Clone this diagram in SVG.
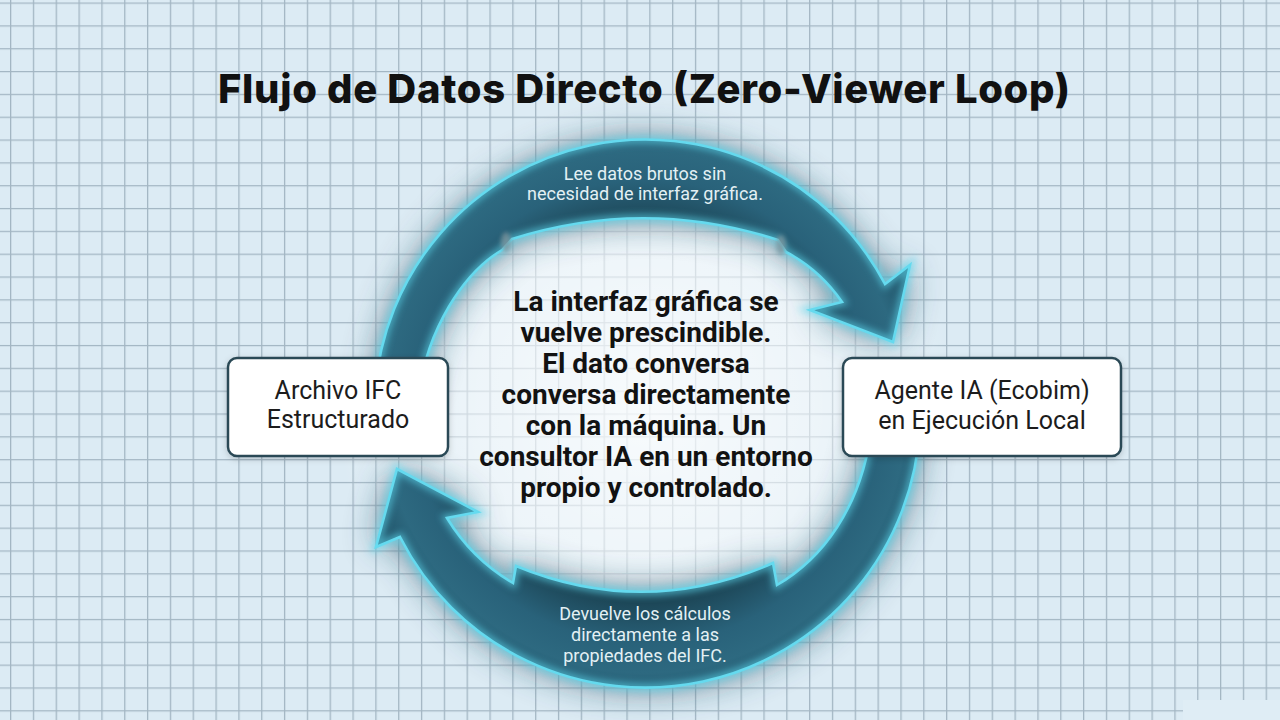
<svg xmlns="http://www.w3.org/2000/svg" width="1280" height="720" viewBox="0 0 1280 720">
<defs>
<style>
.bandHalo { fill: #1b4a5f; opacity: 0.75; filter: url(#halo); }
.band { fill: url(#bandFill); stroke: #6ad8ec; stroke-width: 2.6; stroke-linejoin: miter; stroke-miterlimit: 8; }
.bandGlow { fill: none; stroke: #5fdcf2; stroke-width: 8; opacity: 0.6; filter: url(#glow); }
.nodeBox { fill: #ffffff; stroke: #2c4a56; stroke-width: 2.5; filter: url(#shadow); }
.nodeText { font-family: Roboto, "Liberation Sans", sans-serif; font-size: 25px; fill: #1c1c1c; text-anchor: middle; }
.bandLabel { font-family: Roboto, "Liberation Sans", sans-serif; font-size: 18px; fill: #e3f0f4; text-anchor: middle; }
.centerText { font-family: Roboto, "Liberation Sans", sans-serif; font-weight: 700; font-size: 28px; fill: #121212; text-anchor: middle; }
.title { font-family: Inter, "Liberation Sans", sans-serif; font-weight: 800; font-size: 40px; fill: #111111; text-anchor: middle; }
.smudge { fill: #7f939b; opacity: 0.75; filter: url(#soft); }
</style>
<pattern id="grid" x="10" y="2.5" width="22.83" height="22.83" patternUnits="userSpaceOnUse">
<path d="M0.65 0 V22.83 M0 0.65 H22.83" stroke="#a3b6c3" stroke-width="1.3" fill="none"/>
</pattern>
<radialGradient id="centerGlow" cx="645" cy="405" r="310" gradientUnits="userSpaceOnUse">
<stop offset="0" stop-color="#ffffff" stop-opacity="0.8"/>
<stop offset="0.55" stop-color="#ffffff" stop-opacity="0.5"/>
<stop offset="1" stop-color="#ffffff" stop-opacity="0"/>
</radialGradient>
<radialGradient id="bandFill" cx="645" cy="412" r="290" gradientUnits="userSpaceOnUse">
<stop offset="0.66" stop-color="#1d4758"/>
<stop offset="0.8" stop-color="#29627a"/>
<stop offset="0.9" stop-color="#2d6980"/>
<stop offset="1" stop-color="#215469"/>
</radialGradient>
<filter id="halo" x="-30%" y="-30%" width="160%" height="160%"><feGaussianBlur stdDeviation="18"/></filter>
<filter id="glow" x="-20%" y="-20%" width="140%" height="140%"><feGaussianBlur stdDeviation="3.5"/></filter>
<filter id="soft" x="-50%" y="-50%" width="200%" height="200%"><feGaussianBlur stdDeviation="2"/></filter>
<filter id="shadow" x="-10%" y="-20%" width="120%" height="140%"><feDropShadow dx="0" dy="2" stdDeviation="3" flood-color="#000000" flood-opacity="0.18"/></filter>
<path id="topBand" d="M 375 392 A 271 271 0 0 1 885 284 L 910 265 L 893 342 L 810 310 L 842 302 Q 820 270 786 252 L 778 240 Q 645 197 512 239 L 502 250 C 462 274 428 330 419 392 Z"/>
<path id="bottomBand" d="M 920 425 A 275 275 0 0 1 400 537 L 376 547 L 397 469 L 478 512 L 447 518 Q 472 559 513 583 L 516 566 Q 645 619 773 563 L 777 585 C 820 560 862 510 872 425 Z"/>
</defs>

<g id="background">
<rect x="0" y="0" width="1280" height="720" fill="#dcebf4"/>
<rect x="0" y="0" width="1280" height="720" fill="url(#grid)"/>
<rect x="1183" y="700" width="97" height="20" fill="#dfedf5"/>
<rect x="0" y="0" width="1280" height="720" fill="url(#centerGlow)"/>
</g>

<text class="title" x="644" y="103" textLength="852" lengthAdjust="spacing">Flujo de Datos Directo (Zero-Viewer Loop)</text>

<g id="connectors">
<g id="flow-read">
<use href="#topBand" class="bandHalo"/>
<use href="#topBand" class="band"/>
<use href="#topBand" class="bandGlow"/>
<ellipse class="smudge" cx="506" cy="242" rx="5" ry="10"/>
<ellipse class="smudge" cx="781" cy="245" rx="5" ry="10"/>
<text class="bandLabel" x="645" y="180">Lee datos brutos sin</text>
<text class="bandLabel" x="645" y="200">necesidad de interfaz gráfica.</text>
</g>
<g id="flow-return">
<use href="#bottomBand" class="bandHalo"/>
<use href="#bottomBand" class="band"/>
<use href="#bottomBand" class="bandGlow"/>
<text class="bandLabel" x="645" y="620">Devuelve los cálculos</text>
<text class="bandLabel" x="645" y="641">directamente a las</text>
<text class="bandLabel" x="645" y="662">propiedades del IFC.</text>
</g>
</g>

<g id="node-ifc">
<rect class="nodeBox" x="228" y="358" width="220" height="98" rx="9"/>
<text class="nodeText" x="338" y="399">Archivo IFC</text>
<text class="nodeText" x="338" y="428">Estructurado</text>
</g>

<g id="node-agente">
<rect class="nodeBox" x="843" y="358" width="278" height="98" rx="9"/>
<text class="nodeText" x="982" y="399">Agente IA (Ecobim)</text>
<text class="nodeText" x="982" y="429">en Ejecución Local</text>
</g>

<g id="center-text">
<text class="centerText" x="646" y="311">La interfaz gráfica se</text>
<text class="centerText" x="646" y="342">vuelve prescindible.</text>
<text class="centerText" x="646" y="373">El dato conversa</text>
<text class="centerText" x="646" y="404">conversa directamente</text>
<text class="centerText" x="646" y="435">con la máquina. Un</text>
<text class="centerText" x="646" y="466">consultor IA en un entorno</text>
<text class="centerText" x="646" y="497">propio y controlado.</text>
</g>
</svg>
